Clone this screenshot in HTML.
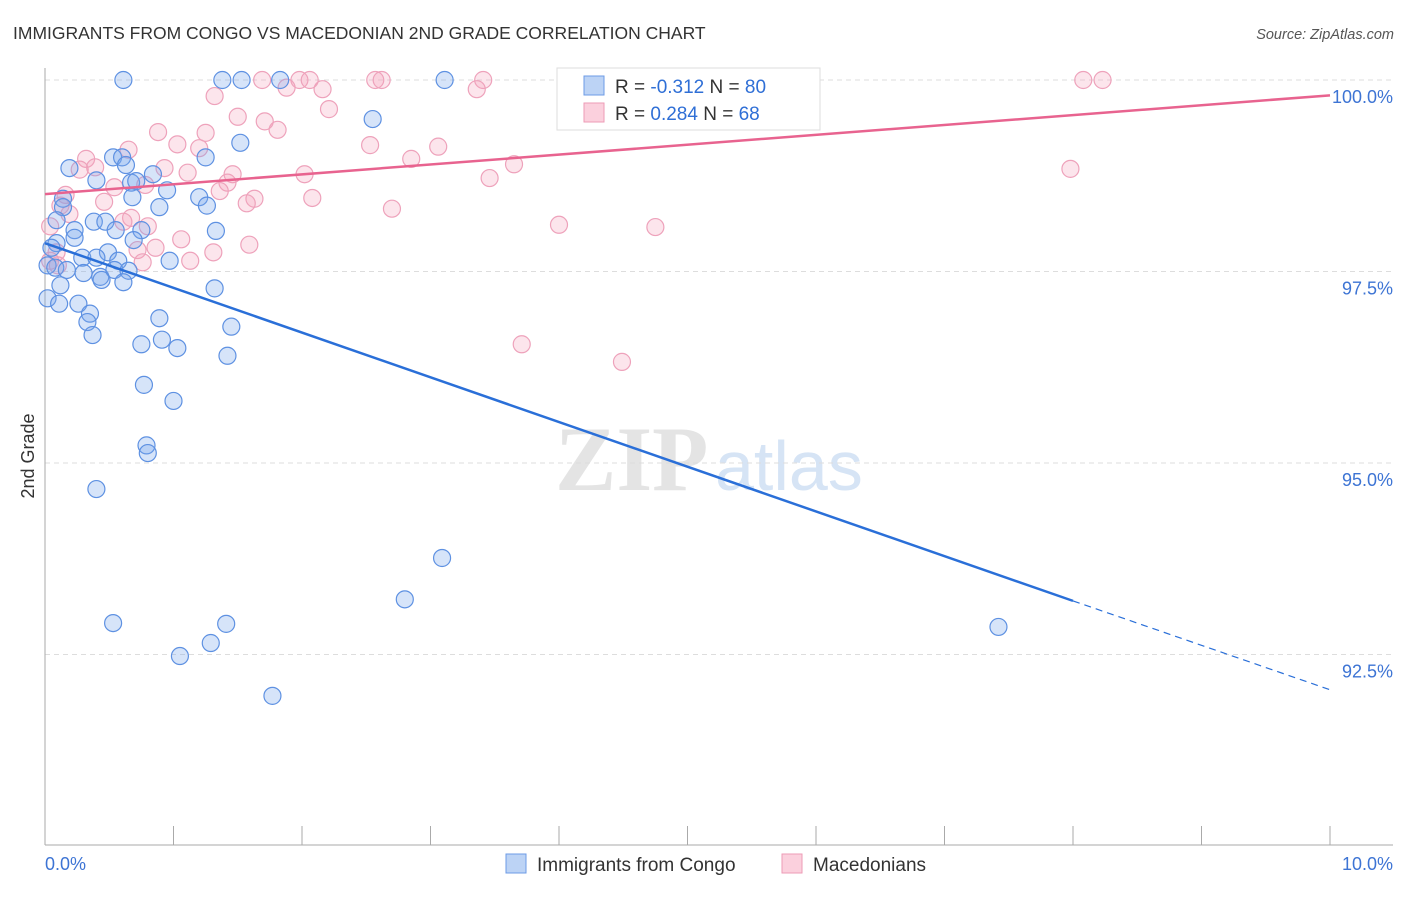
<!DOCTYPE html>
<html><head><meta charset="utf-8"><style>
body{margin:0;background:#fff;font-family:"Liberation Sans",sans-serif;}
</style></head><body>
<svg width="1406" height="892" viewBox="0 0 1406 892" xmlns="http://www.w3.org/2000/svg" style="font-family:'Liberation Sans',sans-serif">
<text x="13" y="39" font-size="17.5" fill="#333">IMMIGRANTS FROM CONGO VS MACEDONIAN 2ND GRADE CORRELATION CHART</text>
<text x="1394" y="39" font-size="14.5" fill="#555" font-style="italic" text-anchor="end">Source: ZipAtlas.com</text>
<g>
<text x="555" y="490" font-size="92" fill="#e4e4e4" font-family="Liberation Serif,serif" font-weight="bold">ZIP</text>
<text x="715" y="490" font-size="70" fill="#d6e4f5">atlas</text>
</g>
<g id="grid"></g>
<g id="axes"></g>
<g id="pts"></g>
<g id="trend"></g>
<g>
<rect x="557" y="68" width="263" height="62" fill="#fff" stroke="#ddd"/>
<rect x="584" y="76" width="20" height="19" fill="#bcd3f5" stroke="#6c9be6"/>
<rect x="584" y="103" width="20" height="19" fill="#fbd0dd" stroke="#ee9bb6"/>
<text x="615" y="93" font-size="19" fill="#333">R = <tspan fill="#2f6fd6">-0.312</tspan>   N = <tspan fill="#2f6fd6">80</tspan></text>
<text x="615" y="120" font-size="19" fill="#333">R =  <tspan fill="#2f6fd6">0.284</tspan>   N = <tspan fill="#2f6fd6">68</tspan></text>
</g>
<g>
<rect x="506" y="854" width="20" height="19" fill="#bcd3f5" stroke="#6c9be6"/>
<text x="537" y="871" font-size="19" fill="#333">Immigrants from Congo</text>
<rect x="782" y="854" width="20" height="19" fill="#fbd0dd" stroke="#ee9bb6"/>
<text x="813" y="871" font-size="19" fill="#333">Macedonians</text>
</g>
<text x="34" y="456" font-size="18" fill="#333" transform="rotate(-90 34 456)" text-anchor="middle">2nd Grade</text>
</svg>
<script>
const yTicks=[100,97.5,95,92.5];
const yTickLabels=["100.0%","97.5%","95.0%","92.5%"];
const xTickLabels=["0.0%","10.0%"];
const congoX=[0.61,1.38,1.53,1.83,3.11,2.55,1.52,1.25,0.53,0.60,0.19,0.63,0.84,0.40,0.67,0.71,0.95,1.20,0.68,1.26,0.89,0.14,0.14,0.09,0.38,0.47,0.23,0.55,1.33,0.75,0.23,0.69,0.09,0.05,0.49,0.29,0.40,0.97,0.57,0.02,0.08,0.17,0.30,0.43,0.54,0.65,0.61,0.44,0.12,0.02,0.11,0.26,0.35,0.33,0.37,0.89,1.32,1.45,0.75,0.91,1.03,1.42,0.77,1.00,0.79,0.80,0.40,3.09,2.80,0.53,1.41,1.29,1.05,1.77,7.42];
const congoY=[100,100,100,100,100,99.49,99.18,98.99,98.99,98.99,98.85,98.89,98.77,98.69,98.66,98.68,98.56,98.47,98.47,98.36,98.34,98.45,98.34,98.17,98.15,98.15,98.04,98.04,98.03,98.04,97.94,97.91,97.87,97.81,97.75,97.68,97.68,97.64,97.64,97.58,97.55,97.52,97.48,97.43,97.52,97.51,97.36,97.39,97.32,97.15,97.08,97.08,96.95,96.84,96.67,96.89,97.28,96.78,96.55,96.61,96.50,96.40,96.02,95.81,95.23,95.13,94.66,93.76,93.22,92.91,92.90,92.65,92.48,91.96,92.86];
const macX=[1.69,1.98,2.06,2.57,2.62,3.41,4.12,4.15,8.08,8.23,1.88,2.16,3.36,1.32,2.21,1.50,1.71,1.81,0.88,1.25,1.03,1.20,0.65,2.53,3.06,2.85,3.65,0.32,0.39,0.27,7.98,0.93,1.11,1.46,2.02,3.46,0.54,1.42,1.36,0.16,0.78,1.63,1.57,2.08,0.46,0.12,0.19,0.67,2.70,0.61,0.80,4.00,4.75,1.06,1.59,0.09,0.72,1.31,0.86,1.13,0.76,0.04,0.10,3.71,4.49,0.04];
const macY=[100,100,100,100,100,100,100,100,100,100,99.90,99.88,99.88,99.79,99.62,99.52,99.46,99.35,99.32,99.31,99.16,99.11,99.09,99.15,99.13,98.97,98.90,98.97,98.86,98.83,98.84,98.85,98.79,98.77,98.77,98.72,98.60,98.66,98.55,98.50,98.63,98.45,98.39,98.46,98.41,98.36,98.25,98.20,98.32,98.15,98.09,98.11,98.08,97.92,97.85,97.75,97.78,97.75,97.81,97.64,97.62,97.64,97.58,96.55,96.32,98.09];
const congoTrendX=[0,8,10];
const congoTrendY=[97.87,93.20,92.04];
const macTrendX=[0,10];
const macTrendY=[98.51,99.80];

const X0=45,X1=1330,Y100=80,PX=76.6;
function sx(v){return X0+(X1-X0)*v/10;}
function sy(v){return Y100+(100-v)*PX;}
const NS="http://www.w3.org/2000/svg";
function mk(tag,attrs,parent){const e=document.createElementNS(NS,tag);for(const k in attrs)e.setAttribute(k,attrs[k]);parent.appendChild(e);return e;}
const grid=document.getElementById('grid'),axes=document.getElementById('axes'),pts=document.getElementById('pts'),trend=document.getElementById('trend');
yTicks.forEach((t,i)=>{
  const l=mk('line',{x1:X0,x2:1393,y1:sy(t),y2:sy(t),stroke:'#ddd','stroke-dasharray':'5,4'},grid);
  
  
  const tx=mk('text',{x:1393,y:sy(t)+23,'font-size':18,fill:'#3d74d4','text-anchor':'end'},axes);
  tx.textContent=yTickLabels[i];
  
  
});
const ya=mk('line',{x1:X0,x2:X0,y1:68,y2:845,stroke:'#aaa'},axes);


const xa=mk('line',{x1:X0,x2:1393,y1:845,y2:845,stroke:'#aaa'},axes);


for(let i=0;i<=10;i++){
  const tk=mk('line',{x1:sx(i),x2:sx(i),y1:826,y2:845,stroke:'#aaa'},axes);
  
  
}
const xl0=mk('text',{x:45,y:870,'font-size':18,fill:'#3d74d4'},axes);xl0.textContent=xTickLabels[0];


const xl1=mk('text',{x:1393,y:870,'font-size':18,fill:'#3d74d4','text-anchor':'end'},axes);xl1.textContent=xTickLabels[1];


macX.forEach((v,i)=>{
  const c=mk('circle',{cx:sx(v),cy:sy(macY[i]),r:8.5,fill:'rgba(244,160,188,0.28)',stroke:'#eea2bb','stroke-width':1.2},pts);
  
  
});
congoX.forEach((v,i)=>{
  const c=mk('circle',{cx:sx(v),cy:sy(congoY[i]),r:8.5,fill:'rgba(120,165,235,0.3)',stroke:'#5e91e2','stroke-width':1.2},pts);
  
  
});
const mt=mk('line',{x1:sx(macTrendX[0]),y1:sy(macTrendY[0]),x2:sx(macTrendX[1]),y2:sy(macTrendY[1]),stroke:'#e8638f','stroke-width':2.5},trend);


const ct=mk('line',{x1:sx(congoTrendX[0]),y1:sy(congoTrendY[0]),x2:sx(congoTrendX[1]),y2:sy(congoTrendY[1]),stroke:'#2a6fd8','stroke-width':2.5},trend);


const cd=mk('line',{x1:sx(congoTrendX[1]),y1:sy(congoTrendY[1]),x2:sx(congoTrendX[2]),y2:sy(congoTrendY[2]),stroke:'#2a6fd8','stroke-width':1.2,'stroke-dasharray':'7,5'},trend);


</script>
</body></html>
